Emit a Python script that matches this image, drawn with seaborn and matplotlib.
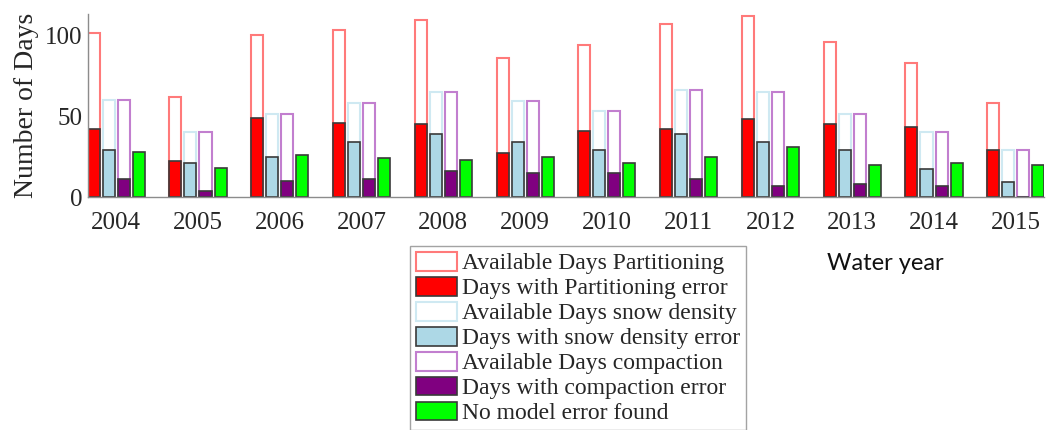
"""
Model error days per water year: available days vs. days with error.
"""

import pandas as pd
import matplotlib.pyplot as plt
import seaborn as sns
from matplotlib.patches import Patch

years = ['2004', '2005', '2006', '2007', '2008', '2009', '2010', '2011',
         '2012', '2013', '2014', '2015']

avail_partitioning = [101, 62, 100, 103, 109, 86, 94, 107, 112, 96, 83, 58]
err_partitioning = [42, 22, 49, 46, 45, 27, 41, 42, 48, 45, 43, 29]
avail_density = [60, 40, 51, 58, 65, 59, 53, 66, 65, 51, 40, 29]
err_density = [29, 21, 25, 34, 39, 34, 29, 39, 34, 29, 17, 9]
avail_compaction = [60, 40, 51, 58, 65, 59, 53, 66, 65, 51, 40, 29]
err_compaction = [11, 4, 10, 11, 16, 15, 15, 11, 7, 8, 7, 0]
no_error = [28, 18, 26, 24, 23, 25, 21, 25, 31, 20, 21, 20]

groups = ['Partitioning', 'Density', 'Compaction', 'None']
edge_colors = ['#ff7a7a', '#cfe9f2', '#c27fcf', '#ffffff']
fill_colors = ['#ff0000', '#add8e6', '#800080', '#00ff00']

legend_labels = ['Available Days Partitioning', 'Days with Partitioning error',
                 'Available Days snow density', 'Days with snow density error',
                 'Available Days compaction', 'Days with compaction error',
                 'No model error found']


def build_frames():
    avail = pd.DataFrame({
        'year': years * 4,
        'group': sum([[g] * len(years) for g in groups], []),
        'days': avail_partitioning + avail_density + avail_compaction + [0] * len(years),
    })
    err = pd.DataFrame({
        'year': years * 4,
        'group': sum([[g] * len(years) for g in groups], []),
        'days': err_partitioning + err_density + err_compaction + no_error,
    })
    return avail, err


def main():
    sns.set_theme(style='white')
    plt.rcParams['font.family'] = ['Liberation Serif', 'DejaVu Serif']

    avail, err = build_frames()

    fig = plt.figure(figsize=(10.47, 4.30), dpi=100)
    ax = fig.add_axes([88 / 1047, 1 - 197 / 430, (1044 - 88) / 1047, 183 / 430])

    # outlines for available days
    sns.barplot(data=avail, x='year', y='days', hue='group', order=years,
                hue_order=groups, palette=edge_colors, fill=False,
                width=0.736, gap=0.2, linewidth=1.5, legend=False, ax=ax,
                errorbar=None)
    # filled bars for error days
    sns.barplot(data=err, x='year', y='days', hue='group', order=years,
                hue_order=groups, palette=fill_colors, width=0.736, gap=0.2,
                edgecolor='#3a3a3a', linewidth=1.2, saturation=1,
                legend=False, ax=ax, errorbar=None)

    ax.set_xlim(-0.345, 11.345)
    ax.set_ylim(0, 113)
    ax.set_yticks([0, 50, 100])
    ax.set_xlabel('')
    ax.set_ylabel('Number of Days', fontsize=20, labelpad=4)
    ax.tick_params(axis='y', direction='in', length=5, color='#808080',
                   labelsize=18, pad=4)
    ax.tick_params(axis='x', length=0, labelsize=18, pad=11)
    for side in ['top', 'right']:
        ax.spines[side].set_visible(False)
    for side in ['left', 'bottom']:
        ax.spines[side].set_color('#8c8c8c')
        ax.spines[side].set_linewidth(1.0)

    handles = []
    for ec, fc in zip(edge_colors[:3], fill_colors[:3]):
        handles.append(Patch(facecolor='white', edgecolor=ec, linewidth=1.5))
        handles.append(Patch(facecolor=fc, edgecolor='#3a3a3a', linewidth=1.2))
    handles.append(Patch(facecolor=fill_colors[3], edgecolor='#3a3a3a', linewidth=1.2))

    fig.legend(handles, legend_labels, loc='upper left',
               bbox_to_anchor=(410 / 1047, 1 - 246 / 430), fontsize=17,
               frameon=True, fancybox=False, edgecolor='#8c8c8c',
               borderpad=0.25, borderaxespad=0, labelspacing=0.1,
               handlelength=1.75, handleheight=0.85, handletextpad=0.2)

    fig.text(885 / 1047, 1 - 263 / 430, 'Water year', family='Lato',
             fontsize=17, ha='center', va='center', color='#111111')

    fig.savefig('out.png', dpi=100)


if __name__ == '__main__':
    main()
